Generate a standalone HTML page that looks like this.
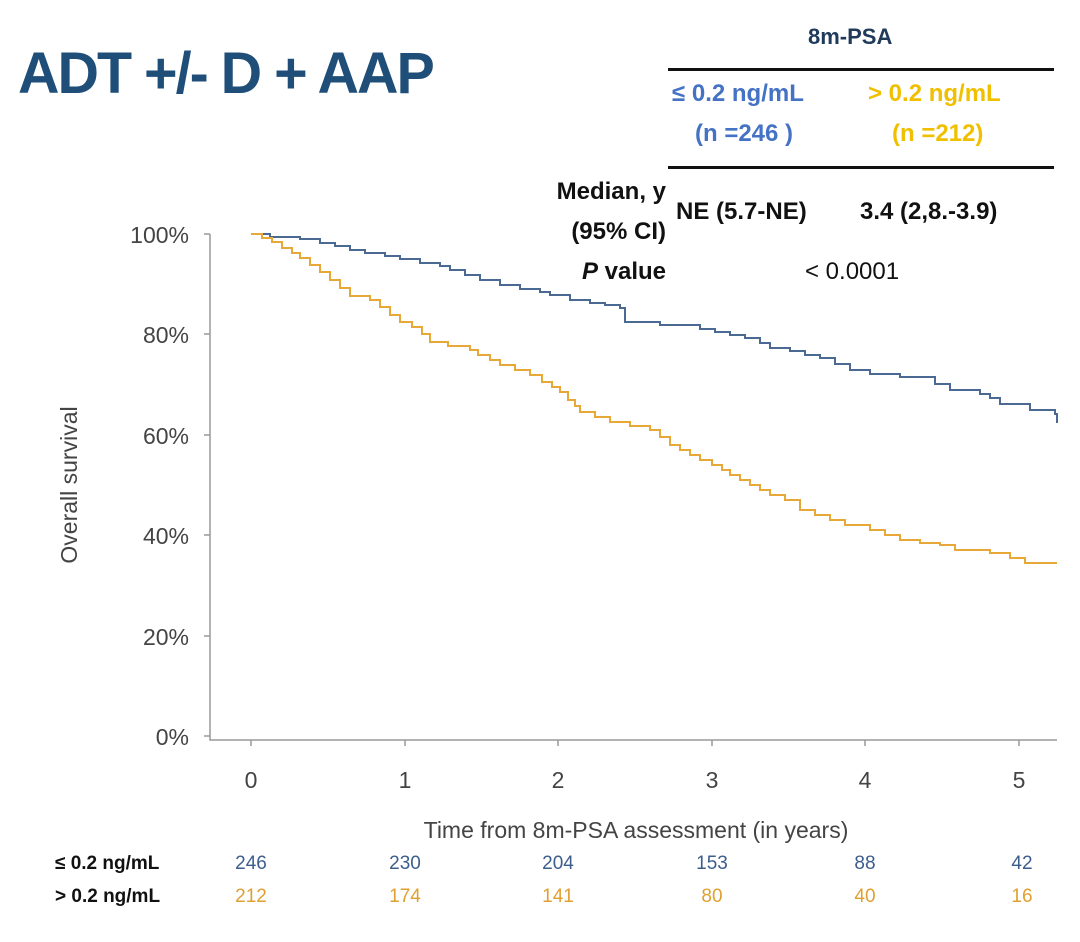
<!DOCTYPE html>
<html><head><style>
body{margin:0;background:#fff;width:1080px;height:942px;overflow:hidden;position:relative;font-family:"Liberation Sans",sans-serif}
.t{position:absolute;white-space:nowrap}
.b{font-weight:bold}
.r{text-align:right;width:300px}
</style></head><body>
<div class="t b" style="left:18px;top:40px;font-size:58px;color:#1f4e79;letter-spacing:-2px;transform:scaleX(0.99);transform-origin:left">ADT +/- D + AAP</div>
<div class="t b" style="left:808px;top:24px;font-size:22px;color:#1f3a5a">8m-PSA</div>
<div style="position:absolute;left:668px;top:68px;width:386px;height:3px;background:#111"></div>
<div style="position:absolute;left:668px;top:166px;width:386px;height:3px;background:#111"></div>
<div class="t b" style="left:672px;top:80px;font-size:24px;color:#4472c4">≤ 0.2 ng/mL</div>
<div class="t b" style="left:695px;top:120px;font-size:24px;color:#4472c4">(n =246 )</div>
<div class="t b" style="left:868px;top:80px;font-size:24px;color:#f0c000">&gt; 0.2 ng/mL</div>
<div class="t b" style="left:892px;top:120px;font-size:24px;color:#f0c000">(n =212)</div>
<div class="t b r" style="left:366px;top:178px;font-size:24px;color:#111">Median, y</div>
<div class="t b r" style="left:366px;top:218px;font-size:24px;color:#111">(95% CI)</div>
<div class="t b" style="left:676px;top:198px;font-size:24px;color:#111">NE (5.7-NE)</div>
<div class="t b" style="left:860px;top:198px;font-size:24px;color:#111">3.4 (2,8.-3.9)</div>
<div class="t b r" style="left:366px;top:258px;font-size:24px;color:#111"><i>P</i> value</div>
<div class="t" style="left:805px;top:258px;font-size:24px;color:#111">&lt; 0.0001</div>
<svg width="1080" height="942" style="position:absolute;left:0;top:0" font-family="Liberation Sans, sans-serif">
<g stroke="#999" stroke-width="1.5" fill="none">
<path d="M210 234V740H1057"/>
<path d="M204 234H210M204 334H210M204 435H210M204 535H210M204 636H210M204 736H210"/>
<path d="M251 740V746M405 740V746M558 740V746M712 740V746M865 740V746M1019 740V746"/>
</g>
<g font-size="23" fill="#444" text-anchor="end">
<text x="189" y="243">100%</text><text x="189" y="343">80%</text><text x="189" y="444">60%</text><text x="189" y="544">40%</text><text x="189" y="645">20%</text><text x="189" y="745">0%</text>
</g>
<g font-size="23" fill="#444" text-anchor="middle">
<text x="251" y="788">0</text><text x="405" y="788">1</text><text x="558" y="788">2</text><text x="712" y="788">3</text><text x="865" y="788">4</text><text x="1019" y="788">5</text>
<text x="636" y="838">Time from 8m-PSA assessment (in years)</text>
<text transform="translate(77 485) rotate(-90)">Overall survival</text>
</g>
<path fill="none" stroke="#4a6a94" stroke-width="2" d="M251 234H270V237H300V239H320V243H335V246H350V250H365V253H385V256H400V259H420V263H440V266H450V270H465V275H480V280H500V285H520V289H540V292H550V295H570V300H590V303H605V305H620V308H625V322H660V325H700V329H715V332H730V335H745V338H760V343H770V348H790V351H805V355H820V358H835V364H850V370H870V374H900V377H935V384H950V390H980V394H990V398H1000V404H1030V410H1055V414H1057V423"/>
<path fill="none" stroke="#e8a838" stroke-width="2" d="M251 234H262V238H272V242H282V248H292V253H300V258H310V265H320V272H330V280H340V288H350V296H370V300H380V307H390V315H400V322H412V327H422V334H430V342H448V346H470V350H478V355H490V360H500V365H515V370H530V375H542V382H552V387H560V392H568V400H575V406H580V412H595V417H610V422H630V426H650V430H660V437H670V445H680V450H690V455H700V460H712V465H722V470H730V475H740V480H750V485H760V490H770V495H785V500H800V510H815V515H830V520H845V525H870V530H885V535H900V540H920V543H940V545H955V550H990V553H1010V558H1025V563H1057"/>
<g font-size="19" font-weight="bold" fill="#111"><text x="55" y="869">≤ 0.2 ng/mL</text><text x="55" y="902">&gt; 0.2 ng/mL</text></g>
<g font-size="19" text-anchor="middle" fill="#3d5d8c"><text x="251" y="869">246</text><text x="405" y="869">230</text><text x="558" y="869">204</text><text x="712" y="869">153</text><text x="865" y="869">88</text><text x="1022" y="869">42</text></g>
<g font-size="19" text-anchor="middle" fill="#e0a030"><text x="251" y="902">212</text><text x="405" y="902">174</text><text x="558" y="902">141</text><text x="712" y="902">80</text><text x="865" y="902">40</text><text x="1022" y="902">16</text></g>
</svg>
</body></html>
